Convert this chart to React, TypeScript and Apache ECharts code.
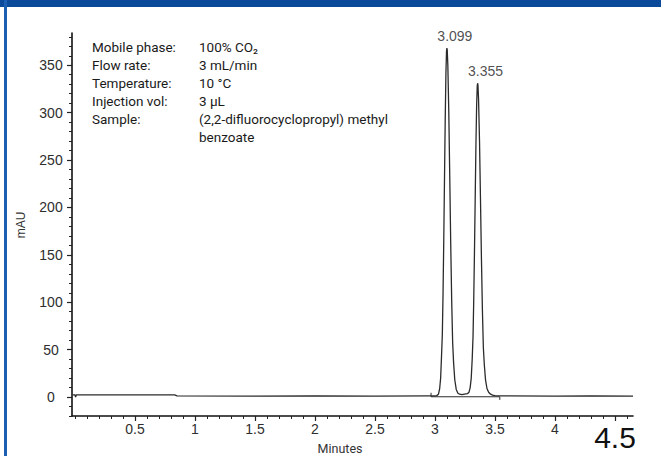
import React, { useEffect, useRef } from "react";
import * as echarts from "echarts";

// Chromatogram trace: retention time (min) and absorbance (mAU)
const traceTime = [
  -0.02, 0.0, 0.005, 0.01, 0.83, 0.85, 1.5, 2.0, 2.5, 2.95, 3.0,
  3.014, 3.029, 3.039, 3.047, 3.054, 3.061, 3.067, 3.073, 3.079, 3.085, 3.091, 3.096, 3.099,
  3.102, 3.107, 3.115, 3.123, 3.131, 3.139, 3.147, 3.155, 3.165, 3.177, 3.191, 3.205, 3.225, 3.245,
  3.27, 3.283, 3.293, 3.302, 3.31, 3.317, 3.323, 3.329, 3.335, 3.341, 3.347, 3.352, 3.355,
  3.358, 3.363, 3.371, 3.379, 3.387, 3.395, 3.403, 3.411, 3.421, 3.433, 3.447, 3.463, 3.48, 3.5,
  3.55, 3.6, 4.0, 4.3, 4.65,
];
const traceMAU = [
  2.2, 2.2, 0, 2.2, 2.2, 1.2, 1.0, 1.2, 1.0, 1.2, 1.2,
  1.5, 3, 9, 20, 42, 66, 109, 165, 229, 291, 341, 365, 368,
  366, 350, 300, 232, 162, 102, 58, 36, 18, 8, 4, 3, 2.5, 3,
  3.5, 5, 10, 20, 40, 64, 104, 154, 210, 265, 308, 328, 331,
  329, 314, 270, 209, 146, 92, 52, 34, 18, 9, 5, 3, 2, 1.5,
  1.2, 1.2, 1.0, 1.2, 1.0,
];

// Integration baseline drawn under the two peaks
const baselineTime = [2.967, 2.967, 3.54, 3.54];
const baselineMAU = [4.5, 0.3, 0.3, -3];

// Peak annotations
const peakTimes = [3.099, 3.355];
const peakHeights = [368, 331];

// Axis ticks
const xLabelValues = [0.5, 1, 1.5, 2, 2.5, 3, 3.5, 4, 4.5];
const yLabelValues = [0, 50, 100, 150, 200, 250, 300, 350];

// Method conditions text
const condLabels = ["Mobile phase:", "Flow rate:", "Temperature:", "Injection vol:", "Sample:", ""];
const condValues = ["100% CO₂", "3 mL/min", "10 °C", "3 μL", "(2,2-difluorocyclopropyl) methyl", "benzoate"];

const X_MIN = -0.025;
const X_MAX = 4.65;
const Y_MIN = -20;
const Y_MAX = 384;

export default function App() {
  const ref = useRef<HTMLDivElement>(null);

  useEffect(() => {
    if (!ref.current) return;
    const chart = echarts.init(ref.current, null, { renderer: "svg" });

    const xMinor: number[] = [];
    for (let i = 0; i <= 46; i++) xMinor.push(Math.round(i * 10) / 100);
    const yMinor: number[] = [];
    for (let v = -20; v <= 380; v += 10) yMinor.push(v);

    const trace = traceTime.map((t, i) => [t, traceMAU[i]]);
    const base = baselineTime.map((t, i) => [t, baselineMAU[i]]);
    const peaks = peakTimes.map((t, i) => [t, peakHeights[i]]);

    const labelFont = { fontFamily: "Liberation Sans, Arial, sans-serif", fontSize: 14, color: "#2e2e2e" };
    const condFont = "13.5px Roboto, sans-serif";

    const graphics: any[] = [
      { type: "rect", shape: { x: 0, y: 0, width: 661, height: 7 }, style: { fill: "#0b4a9a" }, silent: true },
      { type: "rect", shape: { x: 4, y: 0, width: 3, height: 456 }, style: { fill: "#1c5eb3" }, silent: true },
      {
        type: "text", x: 21, y: 225, rotation: Math.PI / 2,
        style: { text: "mAU", font: "12px Liberation Sans, Arial, sans-serif", fill: "#333", align: "center", verticalAlign: "middle" },
      },
      {
        type: "text", x: 340, y: 455,
        style: { text: "Minutes", font: "12.5px Roboto, sans-serif", fill: "#333", align: "center", verticalAlign: "bottom" },
      },
    ];
    const rowY = [47, 65, 83, 101, 119, 137];
    condLabels.forEach((s, i) => {
      if (s) graphics.push({ type: "text", x: 92, y: rowY[i], style: { text: s, font: condFont, fill: "#1a1a1a", verticalAlign: "middle" } });
    });
    condValues.forEach((s, i) => {
      graphics.push({ type: "text", x: 199, y: rowY[i], style: { text: s, font: condFont, fill: "#1a1a1a", verticalAlign: "middle" } });
    });

    chart.setOption({
      animation: false,
      backgroundColor: "#ffffff",
      grid: { left: 72, top: 33, width: 561, height: 383, containLabel: false },
      xAxis: [
        {
          type: "value", min: X_MIN, max: X_MAX, position: "bottom",
          axisLine: { show: true, onZero: false, lineStyle: { color: "#111", width: 1.6 } },
          axisTick: { show: true, length: 5, customValues: xLabelValues, lineStyle: { color: "#222", width: 1.2 } },
          axisLabel: {
            show: true, margin: 6, customValues: xLabelValues, ...labelFont,
            formatter: (v: number) => (v === 4.5 ? "{big|4.5}" : String(v)),
            rich: { big: { fontSize: 30, fontFamily: "Liberation Sans, Arial, sans-serif", color: "#111" } },
          },
          splitLine: { show: false },
        },
        {
          type: "value", min: X_MIN, max: X_MAX, position: "bottom",
          axisLine: { show: false, onZero: false },
          axisTick: { show: true, length: 3, customValues: xMinor, lineStyle: { color: "#222", width: 1 } },
          axisLabel: { show: false },
          splitLine: { show: false },
        },
      ],
      yAxis: [
        {
          type: "value", min: Y_MIN, max: Y_MAX, position: "left",
          axisLine: { show: true, onZero: false, lineStyle: { color: "#111", width: 1.6 } },
          axisTick: { show: true, length: 5, customValues: yLabelValues, lineStyle: { color: "#222", width: 1.2 } },
          axisLabel: { show: true, margin: 21, align: "center", customValues: yLabelValues, ...labelFont },
          splitLine: { show: false },
        },
        {
          type: "value", min: Y_MIN, max: Y_MAX, position: "left",
          axisLine: { show: false, onZero: false },
          axisTick: { show: true, length: 3, customValues: yMinor, lineStyle: { color: "#222", width: 1 } },
          axisLabel: { show: false },
          splitLine: { show: false },
        },
      ],
      series: [
        {
          type: "line", data: trace, xAxisIndex: 0, yAxisIndex: 0, symbol: "none",
          lineStyle: { color: "#2b2b2b", width: 1.3 }, silent: true,
        },
        {
          type: "line", data: base, xAxisIndex: 0, yAxisIndex: 0, symbol: "none",
          lineStyle: { color: "#2b2b2b", width: 1 }, silent: true,
        },
        {
          type: "scatter", data: peaks, xAxisIndex: 0, yAxisIndex: 0, symbolSize: 0,
          label: {
            show: true, position: "top", distance: 5, offset: [8, 0],
            formatter: (p: any) => p.value[0].toFixed(3), ...labelFont, color: "#222",
          },
          silent: true,
        },
      ],
      graphic: graphics,
    });

    return () => chart.dispose();
  }, []);

  return (
    <div
      ref={ref}
      style={{ position: "absolute", left: 0, top: 0, width: 661, height: 456, background: "#fff" }}
    />
  );
}
